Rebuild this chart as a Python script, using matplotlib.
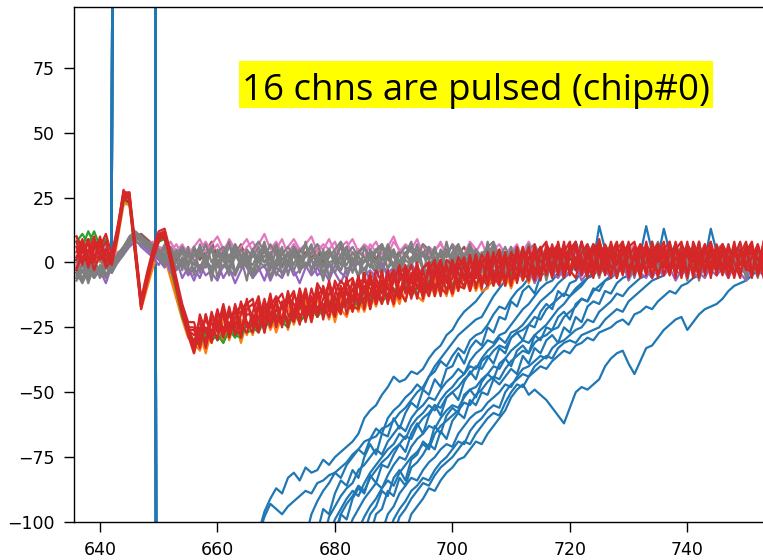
import numpy as np
import matplotlib.pyplot as plt
from matplotlib.patches import Rectangle

first_sample = 636

# pulsed channels (blue): shared pre-pulse + saturated part, samples 636..650
blue_pulse = [1, 3, -1, 2, 4, 0, 2, 1500, 1500, 1500, 1500, 1500, 1500, 1500, -1500]
# sample where each pulsed channel comes back into view, and its values from there on
blue_start = [667, 667, 675, 677, 678, 679, 680, 682, 684, 686, 688, 689, 692, 680, 685, 690]
blue_recovery = [
    [-104, -96, -91, -87, -89, -83, -81, -84, -79, -81, -80, -76, -78, -75, -73, -71, -69, -66, -60, -57,
     -55, -51, -48, -44, -46, -45, -42, -43, -41, -37, -34, -32, -28, -26, -22, -19, -17, -15, -12, -9,
     -7, -4, -6, -2, 1, -3, 2, -1, 3, -2, 4, 0, 5, -3, 2, 6, -1, 3, -4, 1, 5, 0, -2, 4, 1, -3, 3, 6, -1,
     2, -2, 5, 0, -3, 4, 1, -1, 3, -2, 2, 5, -1, 0, 4, -3, 1, 2],
    [-105, -98, -93, -95, -97, -94, -92, -90, -88, -89, -85, -84, -82, -81, -79, -77, -74, -72, -69, -68,
     -67, -64, -63, -61, -58, -56, -53, -50, -48, -44, -40, -37, -34, -31, -28, -26, -24, -22, -21, -17,
     -13, -10, -7, -5, -2, 0, 3, -1, 4, 1, -2, 5, 0, 3, -3, 2, 7, 1, -2, 4, 0, 3, -1, 5, 2, -3, 1, 4, -2,
     6, 0, 2, -1, 3, 5, -2, 1, 4, 0, -3, 2, 5, 1, -1, 3, 0, 2],
    [-106, -97, -92, -88, -85, -81, -83, -78, -75, -72, -74, -68, -64, -66, -60, -57, -55, -52, -50, -47,
     -49, -44, -42, -38, -40, -36, -33, -35, -30, -28, -27, -24, -20, -17, -18, -14, -11, -9, -6, -4, -1,
     3, 0, 5, -2, 2, 8, 1, -1, 4, 0, 6, 2, -3, 3, 1, 5, -1, 2, 4, 0, -2, 3, 7, 1, -1, 4, 2, -2, 3, 0, 5,
     1, -1, 2, 4, 0, 3, 1],
    [-104, -95, -97, -89, -84, -86, -80, -83, -75, -70, -74, -66, -67, -60, -64, -58, -54, -56, -49, -51,
     -45, -48, -41, -40, -35, -39, -33, -30, -32, -25, -27, -21, -22, -15, -17, -11, -9, -12, -5, -4, -1,
     2, -2, 4, 1, -1, 5, 2, 0, 3, -3, 2, 6, 1, -1, 4, 0, 2, 5, -2, 1, 3, 0, 4, 2, -1, 3, 1, 5, 0, -2, 3,
     2, 4, 0, 1, 3],
    [-107, -98, -94, -90, -87, -85, -80, -78, -75, -72, -74, -69, -66, -63, -65, -60, -57, -55, -52, -53,
     -49, -46, -44, -41, -43, -38, -35, -33, -30, -31, -28, -27, -24, -21, -18, -16, -13, -10, -8, -7, -4,
     -2, 1, 4, -1, 3, 0, 14, 5, 1, -2, 3, 2, 6, 0, 4, -1, 2, 5, 1, 3, -2, 2, 4, 0, 3, 1, -1, 4, 2, 0, 3,
     5, 1, -1, 2],
    [-105, -99, -95, -91, -88, -90, -85, -81, -78, -75, -72, -70, -66, -68, -63, -60, -58, -55, -57, -53,
     -50, -48, -45, -43, -40, -41, -37, -34, -32, -29, -31, -27, -26, -24, -21, -18, -15, -13, -11, -8,
     -6, -4, -1, 3, 0, 5, 2, -1, 4, 1, 6, 2, -2, 3, 14, 4, 0, 2, 5, -1, 3, 1, 4, 0, 2, -2, 3, 1, 5, 0, 2,
     4, -1, 2, 3],
    [-104, -97, -99, -91, -87, -89, -82, -85, -78, -79, -74, -70, -73, -66, -62, -66, -59, -55, -59, -52,
     -50, -53, -46, -42, -45, -38, -36, -39, -33, -35, -29, -27, -30, -24, -25, -19, -16, -18, -11, -13,
     -8, -7, -3, -2, 1, 4, 0, 3, -2, 2, 5, 1, 3, -1, 4, 2, 0, 5, 1, -2, 3, 2, 6, 1, 13, 4, 0, 2, -1, 3,
     1, 4, 0, 2],
    [-106, -99, -95, -91, -88, -85, -87, -82, -78, -75, -76, -71, -68, -66, -63, -64, -60, -57, -55, -56,
     -52, -49, -48, -45, -43, -40, -41, -37, -34, -32, -30, -31, -28, -26, -24, -21, -18, -16, -13, -11,
     -9, -6, -4, -1, 2, 5, 1, -2, 3, 0, 4, 2, 6, 1, -1, 3, 0, 4, 2, -2, 3, 1, 5, 0, 2, -1, 4, 1, 3, 0, 2, 4],
    [-103, -98, -94, -91, -87, -84, -86, -81, -78, -75, -73, -70, -72, -66, -63, -61, -59, -57, -54, -55,
     -51, -49, -46, -44, -45, -41, -38, -36, -34, -35, -31, -29, -28, -26, -25, -21, -19, -17, -14, -15,
     -11, -9, -7, -5, -2, 1, 4, 0, 3, 2, -1, 5, 1, 3, 0, 4, 2, -2, 3, 1, 5, 0, 2, 4, -1, 3, 1, 2, 0, 3],
    [-105, -97, -95, -88, -90, -83, -86, -79, -77, -74, -70, -72, -65, -68, -61, -58, -60, -53, -55, -50,
     -51, -45, -47, -44, -41, -43, -36, -39, -33, -35, -30, -28, -31, -25, -27, -21, -23, -17, -15, -16,
     -11, -12, -8, -6, -5, -2, 2, 0, 4, 1, 3, -1, 2, 5, 1, 3, 0, 4, 2, -1, 3, 1, 5, 0, 2, 3, 1, 4],
    [-104, -97, -94, -89, -86, -83, -84, -80, -77, -75, -72, -70, -71, -66, -63, -60, -58, -57, -54, -52,
     -50, -47, -48, -44, -41, -40, -38, -36, -37, -33, -31, -30, -28, -26, -25, -22, -23, -19, -17, -15,
     -12, -13, -10, -8, -6, -5, -2, 2, 13, 4, 1, 3, 0, 2, 5, 1, 3, -1, 2, 4, 0, 3, 1, 2, 4, 1],
    [-106, -99, -95, -92, -88, -86, -83, -84, -80, -77, -75, -72, -69, -70, -65, -62, -60, -57, -55, -56,
     -50, -47, -45, -43, -44, -40, -38, -36, -37, -33, -31, -30, -31, -28, -27, -26, -25, -22, -20, -18,
     -19, -15, -13, -11, -9, -7, -6, -5, -2, 1, 4, 0, 3, 2, 5, 1, -1, 3, 2, 4, 0, 2, 3, 1, 2],
    [-104, -97, -94, -91, -87, -88, -84, -81, -79, -76, -75, -72, -69, -70, -66, -63, -60, -57, -52, -49,
     -47, -51, -49, -51, -53, -56, -59, -62, -56, -50, -48, -49, -47, -45, -40, -37, -35, -34, -39, -43,
     -38, -33, -32, -29, -26, -24, -22, -21, -26, -23, -20, -18, -17, -16, -14, -11, -9, -8, -7, -5, -3, -1],
    [-108, -97, -93, -90, -86, -88, -83, -80, -77, -75, -72, -70, -67, -68, -63, -60, -58, -55, -56, -52,
     -50, -48, -45, -43, -40, -41, -37, -34, -32, -33, -29, -27, -26, -24, -21, -22, -18, -16, -14, -12,
     -13, -10, -8, -6, -5, -2, 3, 0, 4, 1, -2, 3, 5, 0, 2, 4, 1, -1, 3, 2, 5, 0, 2, -1, 4, 1, 3, 0, 2, 5,
     1, 3, 0, 2],
    [-104, -97, -94, -88, -90, -83, -80, -84, -76, -74, -69, -71, -63, -66, -59, -56, -58, -51, -49, -52,
     -46, -43, -45, -39, -37, -40, -34, -32, -35, -28, -30, -25, -26, -21, -19, -22, -16, -14, -15, -10,
     -11, -7, -6, -4, -2, 2, 5, 1, 3, -1, 4, 2, 0, 3, 1, 5, 2, -1, 3, 0, 4, 2, 1, 3, 0, 2, 4, 1, 2],
    [-105, -98, -95, -91, -88, -85, -86, -82, -79, -77, -75, -72, -69, -70, -66, -63, -60, -58, -59, -54,
     -50, -47, -48, -44, -42, -40, -41, -38, -36, -34, -35, -32, -31, -29, -30, -27, -26, -25, -23, -22,
     -24, -20, -19, -17, -18, -15, -13, -11, -12, -9, -8, -6, -5, -2, 1, 3, 0, 4, 2, -1, 3, 1, 2, 0],
]

# neighbour channels, samples 636..753
orange_traces = [
    [1, 4, -2, 3, 0, 5, -4, 9, 22, 24, 2, -18, -10, -2, 4, 2, -6, -14, -22, -29,
     -31, -34, -26, -31, -23, -31, -24, -27, -22, -28, -21, -26, -19, -26, -21, -16, -26, -18, -23, -15,
     -23, -14, -21, -14, -23, -14, -11, -19, -14, -19, -11, -17, -9, -15, -10, -16, -6, -13, -10, -7,
     -13, -6, -12, -4, -13, -6, -9, -4, -11, -5, -4, -9, -2, -9, -4, 0, -7, -2, -5, 0,
     -2, 3, -4, 5, -1, 2, -5, 3, 6, -1, 2, -4, 5, 0, -3, 4, 6, -1, 1, -5,
     3, 0, -4, 6, 1, -2, 3, 0, -5, 2, 1, -3, 5, 0, 2, -4, 1, 4],
    [-3, 2, -1, 4, 1, -2, 0, 10, 23, 22, 4, -15, -9, -1, 6, 5, -3, -12, -20, -27,
     -35, -27, -35, -26, -29, -22, -30, -22, -31, -23, -28, -19, -25, -19, -27, -20, -17, -24, -17, -22,
     -16, -21, -16, -22, -13, -18, -21, -13, -19, -10, -18, -9, -16, -9, -17, -9, -15, -6, -13, -15,
     -6, -13, -7, -13, -4, -11, -5, -11, -4, -11, -10, -3, -8, -3, -10, -3, -1, -8, -1, -6,
     0, -3, 2, -1, 3, -2, 0, 4, -1, 2, -1, 3, 0, -2, 2, 4, -1, 1, -3, 3,
     1, -1, 2, 4, 0, -2, 3, 1, -1, 2, -2, 2, 0, 3, 1, -1, 2, 0],
]
green_traces = [
    [8, 11, 7, 12, 6, 9, 4, 11, 24, 23, 3, -16, -8, 2, 8, 9, -2, -11, -21, -27,
     -30, -32, -27, -30, -28, -31, -26, -29, -25, -27, -26, -22, -25, -23, -20, -24, -21, -19, -23, -20,
     -17, -21, -18, -15, -19, -16, -14, -17, -15, -12, -14, -11, -15, -13, -10, -12, -9, -13, -10, -8,
     -11, -9, -7, -10, -8, -6, -9, -5, -8, -7, -4, -6, -3, -7, -2, -5, -3, -1, -6, -2,
     0, -4, 1, -2, 3, -3, -1, 2, -4, 1, 2, -1, -4, 1, 3, -2, 0, 4, -1, -3,
     1, 3, -2, 0, 4, -1, 2, -3, 1, 3, -1, 2, -2, 4, 0, 1, -2, 3],
    [10, 6, 12, 7, 9, 5, 2, 12, 25, 25, 4, -17, -7, 2, 9, 11, 1, -10, -19, -26,
     -32, -27, -29, -26, -30, -27, -24, -28, -29, -23, -25, -27, -22, -24, -21, -23, -25, -19, -22, -21,
     -19, -17, -20, -18, -14, -18, -16, -13, -17, -14, -15, -12, -10, -14, -11, -13, -8, -10, -12, -9,
     -7, -10, -8, -6, -9, -7, -5, -8, -4, -6, -6, -3, -5, -2, -4, -6, -1, -3, 0, -2,
     -3, 1, -1, -4, 2, 0, -2, 3, -1, -4, 1, -2, 3, 0, -3, 2, -1, 1, 4, -2,
     -1, 2, 0, -3, 3, 1, -2, 2, 0, -1, 3, 0, -2, 1, -1, 2, 4, 0],
]
red_traces = [
    [8, -1, 9, 1, 10, 0, 2, 13, 28, 24, 6, -15, -5, 4, 11, 12, 3, -9, -19, -26,
     -26, -32, -20, -29, -22, -29, -18, -25, -15, -23, -27, -16, -22, -12, -24, -15, -25, -12, -18, -10,
     -20, -9, -22, -12, -9, -18, -6, -15, -8, -17, -6, -13, -4, -15, -7, -1, -12, -4, -14, -3,
     -11, 0, -8, -1, -12, 0, -7, 3, -10, -1, 3, -7, 3, -8, 1, -3, 6, -6, 4, -7,
     5, -4, 8, -2, 3, 7, -5, 6, -3, 9, -1, 6, -6, 4, 7, -3, 3, -5, 8, 0,
     6, -2, 7, -6, 5, 0, 8, -4, 3, -3, 7, -5, 4, -1, 6, -6, 5, 2],
    [1, 6, -2, 7, 3, -1, 0, 11, 25, 26, 4, -17, -7, 2, 9, 10, 1, -8, -17, -24,
     -33, -25, -32, -20, -25, -16, -26, -18, -29, -18, -16, -22, -14, -25, -18, -22, -11, -20, -13, -23,
     -13, -21, -14, -8, -18, -9, -20, -10, -15, -4, -17, -6, -12, -3, -14, -7, -3, -14, -4, -11,
     -2, -13, 0, -8, -3, -11, 1, -6, 3, -8, -6, 4, -8, 0, 3, -8, 2, 5, -4, 1,
     -4, 4, 7, -6, 2, -1, 8, -3, 6, -5, 4, -5, 5, 8, -2, 2, -6, 6, -1, 7,
     -5, 3, 6, -3, 8, -6, 4, 0, 7, -2, 5, -2, 8, -4, 3, 7, -5, 4],
    [10, 4, 9, 2, 6, 11, 3, 14, 27, 27, 7, -14, -4, 5, 12, 13, 4, -6, -16, -23,
     -23, -30, -25, -31, -20, -21, -28, -16, -24, -27, -19, -13, -25, -16, -21, -24, -13, -16, -24, -12,
     -23, -13, -10, -19, -7, -12, -17, -18, -6, -12, -4, -16, -7, -10, -16, -4, -2, -12, -6, -13,
     -8, -3, -13, 1, -1, -9, -10, -2, 1, -10, 4, -4, -7, 4, -8, 3, -4, 6, -6, 5,
     8, -5, 3, 6, -3, -6, 4, 7, 0, -4, 7, 2, -4, -1, 8, -5, 5, 3, -6, 4,
     2, -5, 5, 8, -4, 4, -1, 7, -6, 6, -3, 6, 0, -6, 7, 3, -2, 8],
    [-2, 2, 5, -3, 4, 8, -1, 10, 24, 26, 3, -18, -8, 1, 8, 11, 0, -10, -20, -28,
     -35, -26, -22, -27, -18, -28, -24, -19, -17, -25, -24, -15, -27, -17, -13, -17, -23, -19, -11, -21,
     -10, -18, -16, -21, -12, -7, -10, -17, -18, -9, -13, -3, -8, -13, -5, -14, -7, -1, -10, -2,
     0, -10, -3, -11, -6, 2, -2, -9, 0, -6, -9, 0, 5, -6, -3, 5, -7, 1, 5, -3,
     -1, 7, -5, 4, 8, -3, 2, -6, 7, 3, -4, 5, 3, -5, 6, 8, -2, 0, 5, -6,
     5, 8, -2, 2, -5, 6, -4, 4, 8, -1, 3, -6, 6, 4, -3, 2, 7, -4],
    [4, 9, 1, 8, 5, 1, 3, 12, 25, 23, 5, -16, -5, 3, 10, 9, 2, -8, -18, -26,
     -28, -28, -30, -19, -27, -19, -29, -21, -19, -15, -22, -27, -17, -23, -15, -12, -20, -23, -15, -19,
     -15, -11, -20, -7, -16, -20, -8, -6, -13, -14, -8, -11, -16, -7, -3, -11, -15, -6, -1, -8,
     -13, -5, -1, -6, 1, -8, 0, -11, -3, 3, -1, -9, -1, 3, -7, -5, 5, 0, -7, 4,
     2, -6, 5, 3, -4, 6, -2, 4, -5, 7, -5, 3, 8, -3, 2, 6, -5, 8, -2, 2,
     -2, 6, -6, 7, 3, -4, 8, -5, 5, 2, -5, 5, 2, 8, -2, -4, 7, -1],
    [6, 0, 4, 10, 1, 5, 2, 13, 26, 25, 6, -16, -6, 4, 10, 11, 3, -7, -18, -25,
     -31, -22, -33, -22, -23, -27, -17, -28, -20, -16, -14, -25, -19, -21, -14, -24, -15, -11, -21, -17,
     -21, -8, -12, -17, -13, -19, -11, -19, -7, -7, -10, -15, -3, -16, -6, -3, -10, -11, 0, -12,
     -3, 1, -10, -12, 0, -4, -10, 2, -6, 1, -8, 2, 0, -9, 4, 0, -3, -7, 7, -5,
     7, 3, -3, 8, -5, 2, 0, -4, 4, 8, 2, -6, 7, -1, 5, -4, 7, 4, -5, 3,
     8, -3, 2, -4, 7, 3, -6, 5, -1, 7, -2, 7, -5, 3, 8, -3, 2, -6],
    [-3, 5, 7, 0, 8, 3, 0, 11, 27, 24, 4, -15, -7, 3, 9, 12, 1, -9, -17, -25,
     -25, -33, -20, -30, -19, -26, -20, -26, -28, -14, -25, -17, -27, -13, -25, -16, -14, -22, -10, -18,
     -14, -20, -9, -16, -21, -10, -16, -7, -17, -5, -18, -8, -15, -4, -11, -14, -1, -8, -5, -14,
     0, -11, -5, -2, -11, -1, -5, -8, 3, -9, 1, -5, -9, 1, -1, -7, 4, -4, 2, 6,
     -5, 6, 2, -3, 7, -2, 8, -1, -6, 4, 6, -2, 0, 8, -5, 4, -3, 7, 2, -4,
     0, 7, -4, 4, -6, 8, 2, -2, 6, -5, 6, -1, 7, -4, 4, 8, -5, 3],
    [2, 8, -1, 5, 9, -2, 1, 12, 25, 27, 5, -17, -6, 2, 11, 10, 2, -8, -19, -24,
     -34, -20, -27, -23, -30, -17, -25, -17, -26, -20, -20, -26, -15, -20, -16, -25, -12, -19, -14, -21,
     -17, -12, -19, -8, -20, -12, -7, -14, -5, -18, -5, -16, -8, -10, -3, -12, -5, -13, -2, -6,
     -10, -4, 1, -7, -12, -2, 2, -10, -3, -8, -2, 3, -5, 2, -9, 6, -5, 2, -2, -6,
     4, -1, 7, -5, 5, 8, -4, 2, 7, -2, -3, 8, -1, 6, -6, 3, 7, -4, 4, 7,
     4, -4, 8, -1, 6, -5, 2, 7, -3, 3, 7, 2, -6, 5, -1, 6, -5, 8],
]

# quiet channels, samples 636..753
purple_traces = [
    [-6, -3, -7, -2, -5, -1, -4, 0, 3, 6, 8, 7, 5, 3, 1, -2, 2, -3, 0, -5,
     -2, -6, 0, -4, -7, -1, -3, -5, 1, -2, -6, -3, -1, -7, -2, -4, 0, -5, -3, -1,
     -5, -2, -6, -1, -4, -8, -2, -3, 0, -5, -3, -6, -1, -4, -2, -7, -3, 0, -5, -2,
     -4, -1, -6, -3, -5, -2, 0, -4, -6, -1, -3, -5, -2, -6, -1, -4, -3, 0, -5, -2,
     -1, -4, -6, -2, -3, 0, -5, -2, -4, -1, -3, -6, -1, -4, -2, -5, 0, -3, -6, -2,
     -4, -1, -3, -5, -2, 0, -4, -6, -1, -3, -2, -5, -1, -3, -4, -1, -2, -4],
    [-4, -7, -2, -6, -3, -8, -1, 1, 4, 7, 9, 6, 4, 2, -1, 3, -4, 1, -6, -2,
     -7, -1, -5, -3, 0, -6, -2, -8, -3, 1, -5, -2, -7, 0, -4, -6, -1, -3, -8, -2,
     1, -5, -3, -7, -1, -4, -6, 0, -5, -2, -7, -3, 0, -6, -2, -5, -8, -1, -4, -3,
     -6, 0, -3, -7, -2, -5, -1, -6, -4, 0, -3, -7, -2, -5, 1, -4, -6, -2, -8, -3,
     0, -5, -2, -6, -3, -1, -7, -4, -2, -5, -1, -6, -3, 0, -7, -2, -4, -6, -1, -3,
     -5, -2, -7, -3, 0, -4, -6, -1, -3, -5, -2, -6, -1, -4, -7, -2, -3, -5],
]
brown_traces = [
    [0, 4, -2, 3, 1, 5, -1, 2, 6, 9, 10, 11, 9, 7, 5, 3, 6, 1, 4, 2,
     6, 1, 4, 8, 2, 5, 0, 3, 7, 1, 4, 0, 5, 2, 6, -1, 3, 7, 1, 4,
     2, 5, 0, 4, 1, 6, 3, -1, 5, 2, 4, 1, 6, 2, -1, 5, 3, 0, 4, 7,
     1, 4, 2, 5, 0, 3, 6, 1, 4, 2, 5, 0, 3, 1, 4, 2, -1, 5, 2, 6,
     1, 3, 0, 4, 2, 5, 1, -1, 3, 2, 4, 1, 5, 2, 0, 3, 6, 1, 2, 4,
     0, 3, 1, 5, 2, -1, 4, 1, 3, 0, 2, 4, 1, 3, 0, 5, 2, 1],
]
pink_traces = [
    [2, 5, 1, 6, 3, 7, 2, 4, 5, 8, 10, 9, 8, 7, 6, 5, 8, 4, 7, 3,
     6, 9, 4, 7, 10, 5, 8, 3, 6, 9, 4, 7, 11, 5, 8, 3, 6, 9, 5, 7,
     10, 4, 7, 5, 8, 2, 6, 9, 4, 7, 5, 8, 3, 6, 10, 4, 7, 5, 9, 3,
     6, 4, 8, 2, 7, 5, 3, 6, 4, 8, 2, 5, 7, 3, 6, 1, 4, 8, 3, 5,
     1, 4, 6, 2, 5, 3, 7, 1, 4, 2, 5, 3, 6, 1, 4, 7, 2, 5, 3, 6,
     2, 4, 1, 5, 3, 6, 2, 0, 4, 3, 5, 2, 4, 6, 1, 3, 5, 2],
    [-1, 3, 0, 4, 2, -2, 1, 3, 6, 7, 9, 10, 7, 8, 5, 6, 4, 7, 3, 6,
     2, 5, 8, 4, 7, 3, 9, 5, 2, 6, 8, 4, 6, 2, 5, 9, 3, 7, 4, 6,
     3, 7, 5, 9, 4, 6, 8, 3, 5, 2, 7, 4, 6, 3, 8, 5, 2, 6, 4, 7,
     3, 5, 7, 4, 2, 6, 3, 8, 5, 2, 6, 3, 5, 2, 4, 7, 1, 3, 6, 2,
     4, 2, 5, 0, 3, 6, 2, 4, 1, 5, 2, 5, 0, 3, 6, 1, 4, 2, 5, 0,
     3, 1, 5, 2, 4, 0, 3, 6, 1, 2, 0, 3, 1, 4, 2, 5, 1, 3],
]
gray_traces = [
    [-5, -1, -6, -2, -4, 0, -3, 2, 5, 9, 11, 9, 8, 6, 4, 2, 5, 0, 4, -1,
     3, 6, 1, 5, -2, 4, 0, 6, 2, -1, 5, 1, 7, 2, -1, 4, 0, 6, 3, -2,
     4, 7, 1, 5, -1, 3, 6, 0, 4, 2, -2, 5, 1, 7, 2, -1, 4, 0, 5, 3,
     1, 6, -2, 4, 0, 5, 2, 7, 1, 3, -1, 4, 2, 6, 0, 3, -2, 5, 1, 4,
     2, -1, 5, 1, 6, -2, 3, 0, 4, 2, 5, 0, 3, -2, 4, 1, 6, 2, -1, 3,
     0, 4, 2, 6, -1, 3, 1, 5, -2, 2, 4, 1, 5, -1, 3, 2, 6, 0],
    [-7, -3, -5, 0, -6, -2, -4, 1, 4, 8, 10, 8, 7, 5, 3, 6, 1, 4, -2, 3,
     -1, 4, 0, -3, 3, 1, -2, 5, -1, 2, -3, 2, 0, 4, -2, 1, 3, -3, 2, -1,
     1, -2, 3, 0, -4, 2, -1, 4, 0, -3, 2, 0, -3, 3, -1, 1, -4, 2, 0, 3,
     -2, 1, 4, -1, 2, -3, 0, 3, -2, 1, 3, -1, 1, -3, 2, 0, 4, -2, 1, -1,
     -3, 2, 0, 3, -2, 1, -1, 4, 0, -2, 2, -1, 3, 0, -3, 2, 1, -2, 3, 0,
     -1, 3, 0, -2, 2, -3, 1, 0, 3, -1, 2, -2, 1, 3, -1, 0, 2, -3],
    [-2, -6, -1, -5, -3, 1, -2, 3, 6, 10, 12, 10, 8, 7, 5, 3, 6, 2, 5, 0,
     5, 2, 7, 0, 4, 1, 6, 3, -1, 5, 2, 6, 0, 3, 7, 1, 4, -1, 5, 2,
     6, 0, 3, 5, 1, 7, 2, -1, 4, 6, 1, 4, 7, 2, 5, 0, 3, 6, 1, 4,
     5, 2, 0, 4, 6, 1, 3, -1, 5, 2, 3, 7, 1, 4, 0, 5, 2, 6, -1, 3,
     4, 1, 6, 0, 3, 5, -1, 2, 7, 1, 0, 4, 2, 5, 1, -1, 3, 6, 2, 0,
     4, 1, 5, -1, 2, 6, 0, 3, 1, 5, 2, 0, 4, 1, 5, -1, 3, 2],
    [-4, -8, -3, -6, -1, -5, -2, 0, 3, 7, 8, 7, 6, 4, 2, -1, 3, -2, 1, -4,
     0, -3, 2, -4, 1, -2, 3, -5, 0, -1, -4, 1, -2, 2, -5, 0, -1, 3, -3, 0,
     -2, 2, -4, 0, 1, -3, 2, -1, -5, 1, -1, -4, 2, -2, 0, -5, 1, -1, 3, -3,
     0, -2, 1, -4, 2, 0, -3, 1, -1, -4, 1, -2, 3, -1, -3, 2, 0, -4, 1, -1,
     -2, 1, -4, 0, 2, -1, -3, 1, 0, -2, -4, 0, 1, -2, 3, -1, -3, 2, 0, -2,
     1, -3, 0, 2, -1, -4, 1, -2, 3, 0, -1, 1, -3, 0, 2, -2, 1, -1],
    [-6, 0, -8, -1, -5, 2, -3, 1, 4, 8, 10, 8, 6, 4, 2, 7, -1, 5, -3, 6,
     -5, 7, -2, 6, -6, 3, 8, -4, 2, -7, 5, -3, 7, -6, 1, 6, -5, 4, -2, 8,
     -4, 3, -7, 5, 0, 7, -5, 2, -6, 6, 1, -4, 7, -3, 5, -6, 3, 8, -2, -5,
     6, -1, 4, -7, 2, 7, -4, 0, 5, -3, 8, -6, 3, -2, 6, -5, 1, 7, -4, 4,
     -7, 2, 6, -3, 5, -1, 8, -5, 3, -6, 4, 0, 7, -4, 2, -6, 5, -2, 6, -3,
     1, 8, -5, 3, -7, 4, 6, -2, 0, 5, -4, 7, -1, 3, -6, 2, 5, -3],
    [-3, -7, 0, -4, -2, -6, 1, 2, 5, 9, 11, 9, 7, 6, 3, 0, 4, -3, 2, -2,
     6, -4, 3, -7, 5, 1, -5, 7, -2, 4, -6, 2, 8, -3, 5, -5, 0, 6, -4, 3,
     7, -2, 5, -6, 4, -1, 6, -4, 3, -7, 5, 2, -5, 6, -3, 4, -6, 1, 7, -2,
     -5, 5, -3, 8, -1, 3, -6, 6, -2, 4, -4, 7, 0, -5, 3, -2, 6, -7, 4, 1,
     5, -4, 2, -6, 7, -1, 3, -5, 6, 0, -3, 5, -6, 2, 7, -4, 1, -2, 8, -5,
     3, -1, 6, -4, 2, 5, -7, 4, -2, 6, 0, -5, 3, 7, -3, 1, -6, 4],
    [1, -4, 3, -2, 2, -5, 0, 3, 6, 9, 10, 9, 7, 5, 4, 1, 5, 3, 6, 2,
     3, 5, 1, -2, 4, 6, 2, 7, 3, 0, 5, 8, 4, 1, -1, 3, 6, 2, 4, 7,
     1, 3, -2, 2, 5, 8, 3, 0, 4, 6, 2, 5, 7, 1, -1, 3, 6, 4, 2, 7,
     5, 1, 3, -2, 4, 7, 2, 5, 0, 3, 6, 8, 2, 4, 1, -1, 3, 5, 7, 2,
     4, 0, 6, 3, 1, 5, -2, 4, 6, 2, 3, 7, 1, 5, 2, -1, 4, 6, 3, 8,
     2, 0, 5, 3, 6, 1, 4, -1, 3, 5, 7, 2, 4, 1, 6, 3, 0, 5],
    [-3, 2, -6, 1, -4, 3, -1, 2, 5, 8, 9, 10, 8, 6, 3, 5, 0, 2, -1, 4,
     1, -2, 3, 6, 0, 4, -3, 2, 5, 1, -1, 4, 2, 7, 3, -2, 1, 5, 0, 3,
     6, 2, -1, 4, 1, -3, 3, 6, 2, 0, 4, -2, 1, 5, 3, -1, 2, 6, 0, 4,
     1, -3, 5, 2, 7, 0, 3, -1, 4, 2, 0, 5, 1, -2, 3, 6, 1, 4, -1, 2,
     5, 3, 0, -2, 4, 1, 6, 2, -3, 3, 1, 5, -1, 3, 0, 4, 2, -2, 5, 1,
     6, 0, 3, -1, 2, 5, 1, 4, -2, 3, 0, 4, 2, 6, 1, -1, 3, 2],
]

palette = {'blue': '#1f77b4', 'orange': '#ff7f0e', 'green': '#2ca02c', 'red': '#d62728',
           'purple': '#9467bd', 'brown': '#8c564b', 'pink': '#e377c2', 'gray': '#7f7f7f'}
lw = 1.6

fig = plt.figure(figsize=(7.63, 5.6), dpi=100)
ax = fig.add_axes([74 / 763, 1 - 522 / 560, 696 / 763, 514.7 / 560])

# pulsed channels go underneath everything else
pulse_x = first_sample + np.arange(len(blue_pulse))
for start, rec in zip(blue_start, blue_recovery):
    xs = np.concatenate([pulse_x, start + np.arange(len(rec))])
    ys = np.concatenate([blue_pulse, rec])
    ax.plot(xs, ys, color=palette['blue'], lw=lw)

for name, traces in [('orange', orange_traces), ('green', green_traces),
                     ('purple', purple_traces), ('brown', brown_traces),
                     ('pink', pink_traces), ('gray', gray_traces),
                     ('red', red_traces)]:
    for tr in traces:
        xs = first_sample + np.arange(len(tr))
        ax.plot(xs, tr, color=palette[name], lw=lw)

ax.set_xlim(635.57, 754.08)
ax.set_ylim(-100, 98.3)
ax.set_xticks([640, 660, 680, 700, 720, 740])
ax.set_yticks([-100, -75, -50, -25, 0, 25, 50, 75])
ax.tick_params(labelsize=12.5, length=7, width=1.0, pad=7)
for sp in ax.spines.values():
    sp.set_linewidth(1.0)

# yellow label pasted on top of the plot
fig.patches.append(Rectangle((239 / 763, 1 - 108 / 560), 474 / 763, 47 / 560,
                             transform=fig.transFigure, facecolor='#ffff00',
                             edgecolor='none', zorder=5))
fig.text(476 / 763, 1 - 100 / 560, '16 chns are pulsed (chip#0)', ha='center',
         va='baseline', fontsize=26.4, family='Open Sans', color='black', zorder=6)

fig.savefig('out.png', dpi=100)
